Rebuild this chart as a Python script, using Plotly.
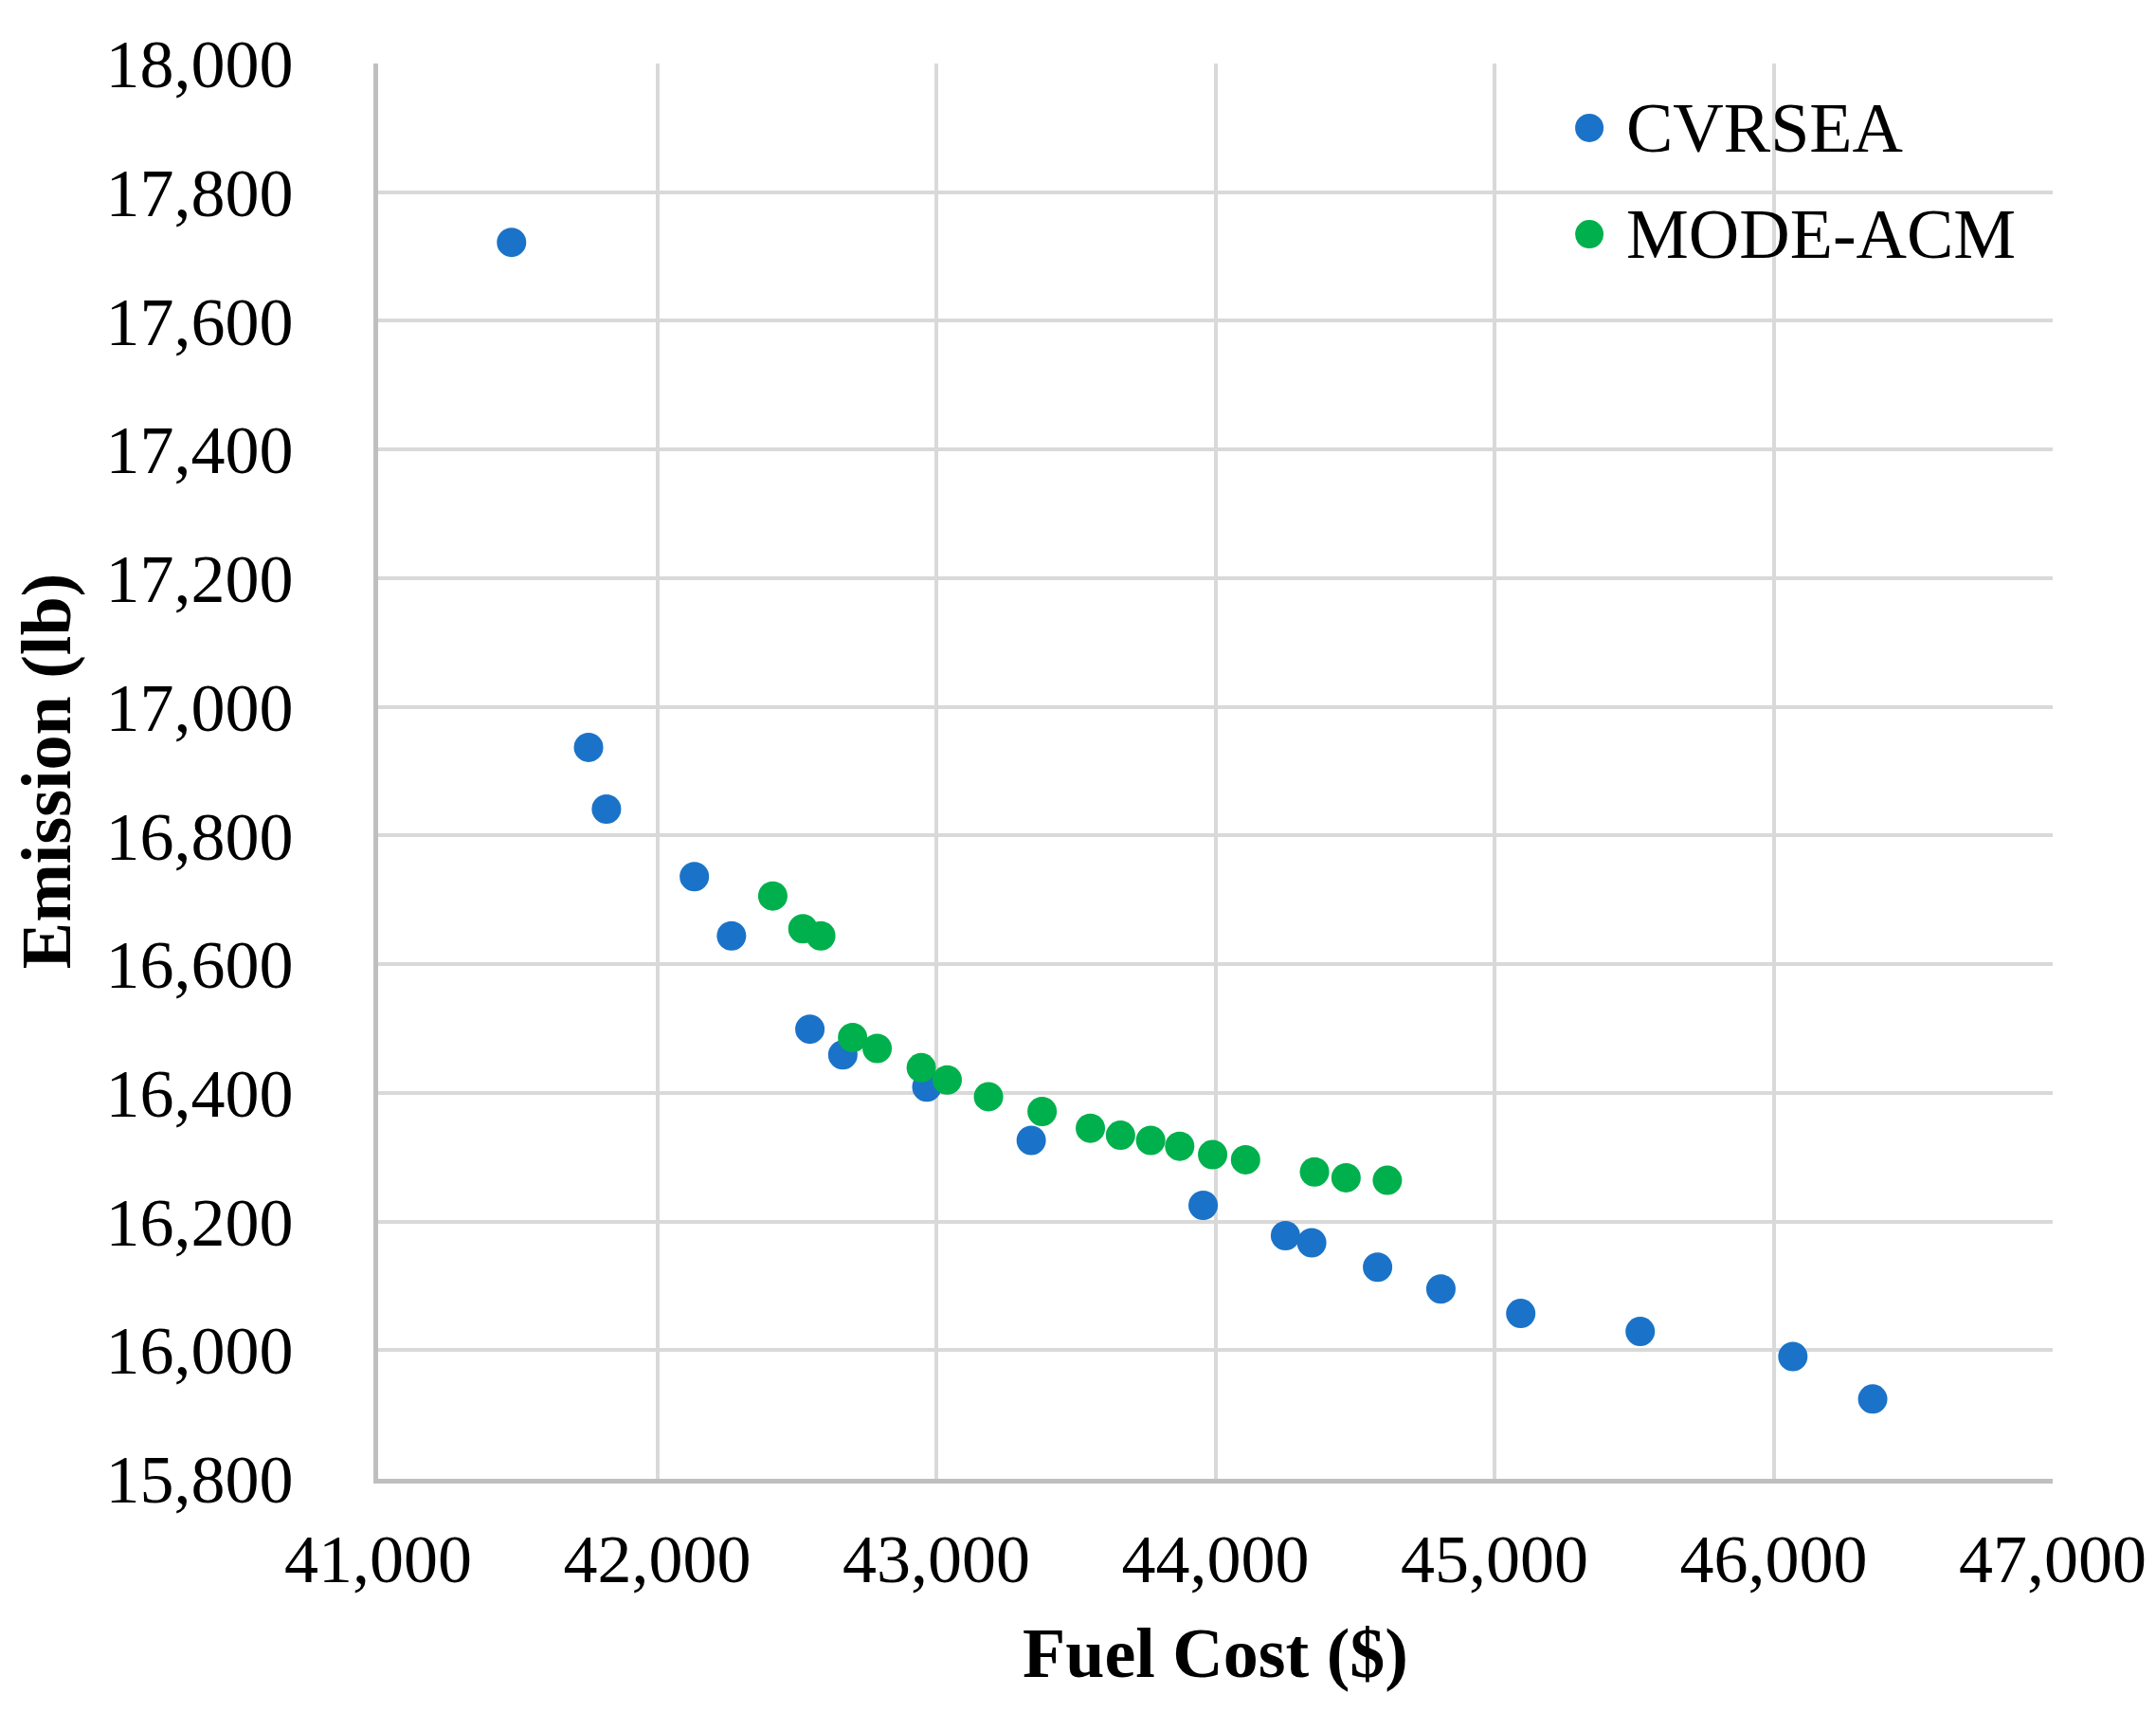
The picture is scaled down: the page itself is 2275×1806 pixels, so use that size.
import plotly.graph_objects as go

cvrsea_cost = [41478, 41754, 41818, 42133, 42266, 42547, 42665, 42966, 43340,
               43956, 44251, 44345, 44581, 44808, 45094, 45522, 46069, 46355]
cvrsea_emission = [17722, 16937, 16841, 16736, 16644, 16499, 16459, 16409, 16326,
                   16225, 16178, 16167, 16129, 16095, 16057, 16029, 15990, 15924]

mode_cost = [42414, 42522, 42586, 42700, 42788, 42946, 43039, 43187, 43379,
             43552, 43660, 43768, 43872, 43990, 44108, 44355, 44468, 44616]
mode_emission = [16706, 16655, 16644, 16486, 16469, 16439, 16420, 16394, 16371,
                 16345, 16334, 16326, 16317, 16304, 16296, 16277, 16268, 16264]

series_names = ["CVRSEA", "MODE-ACM"]
series_colors = ["#1A73C8", "#00B04C"]

x_ticks = [41000, 42000, 43000, 44000, 45000, 46000, 47000]
y_ticks = [15800, 16000, 16200, 16400, 16600, 16800, 17000, 17200, 17400, 17600, 17800, 18000]

FONT = "Liberation Serif"

fig = go.Figure()
fig.add_trace(go.Scatter(x=cvrsea_cost, y=cvrsea_emission, mode="markers", name=series_names[0],
                         marker=dict(color=series_colors[0], size=31, line=dict(width=0))))
fig.add_trace(go.Scatter(x=mode_cost, y=mode_emission, mode="markers", name=series_names[1],
                         marker=dict(color=series_colors[1], size=31, line=dict(width=0))))

# custom legend (large markers like the original)
legend_x_marker = 0.7233
legend_x_text = 0.7440
legend_rows_y = [0.9545, 0.8794]
shapes = []
annotations = []
for name, color, yy in zip(series_names, series_colors, legend_rows_y):
    shapes.append(dict(type="circle", xref="paper", yref="paper",
                       xsizemode="pixel", ysizemode="pixel",
                       xanchor=legend_x_marker, yanchor=yy,
                       x0=-15, x1=15, y0=-15, y1=15,
                       fillcolor=color, line=dict(width=0)))
    annotations.append(dict(xref="paper", yref="paper", x=legend_x_text, y=yy,
                            xanchor="left", yanchor="middle", showarrow=False,
                            text=name, font=dict(family=FONT, size=74, color="black")))

fig.update_layout(
    width=2259, height=1790,
    margin=dict(l=391, r=101, t=59, b=238),
    paper_bgcolor="white", plot_bgcolor="white",
    font=dict(family=FONT, size=72, color="black"),
    showlegend=False,
    shapes=shapes,
    annotations=annotations,
    xaxis=dict(range=[41000, 47000], tickvals=x_ticks,
               ticktext=[f"{v:,}" for v in x_ticks],
               showgrid=True, gridcolor="#D9D9D9", gridwidth=4,
               showline=True, linecolor="#BFBFBF", linewidth=5,
               zeroline=False, ticks="", ticklabelstandoff=18,
               title=dict(text="<b>Fuel Cost ($)</b>", font=dict(size=74, family=FONT), standoff=34),
               automargin=False),
    yaxis=dict(range=[15800, 18000], tickvals=y_ticks,
               ticktext=[f"{v:,}" for v in y_ticks],
               showgrid=True, gridcolor="#D9D9D9", gridwidth=4,
               showline=True, linecolor="#BFBFBF", linewidth=5,
               zeroline=False, ticks="", ticklabelstandoff=70,
               title=dict(text="<b>Emission (lb)</b>", font=dict(size=74, family=FONT), standoff=25),
               automargin=False),
)

fig.write_html("out.html")
